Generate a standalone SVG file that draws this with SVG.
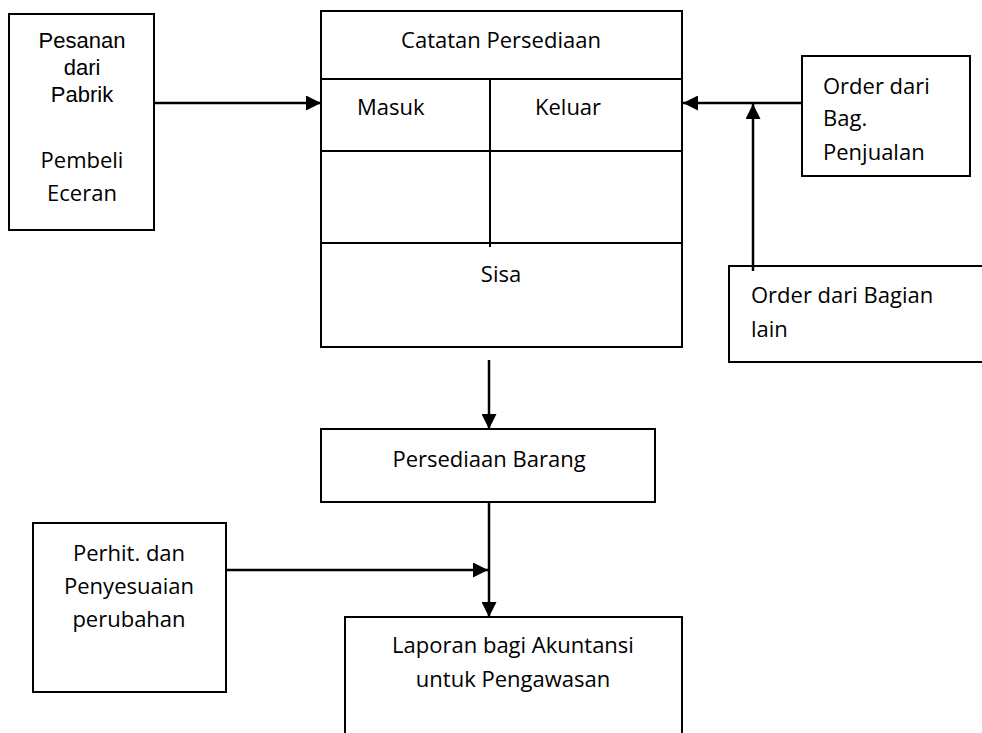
<svg xmlns="http://www.w3.org/2000/svg" width="982" height="733" viewBox="0 0 982 733">
<style>
.box{fill:#fff;stroke:#000;stroke-width:2}
.ln{stroke:#000;stroke-width:2;fill:none}
.arr{stroke:#000;stroke-width:2.5;fill:none}
.t{font-family:"Comic Sans MS","Open Sans","Noto Sans",sans-serif;font-size:22px;fill:#000}
.a{font-family:"Liberation Sans",Arial,sans-serif;font-size:22px;fill:#000}
.m{text-anchor:middle}
</style>
<defs>
<marker id="ah" viewBox="0 0 10 10" refX="10" refY="5" markerWidth="6" markerHeight="6" orient="auto" markerUnits="strokeWidth">
<path d="M0,0 L10,5 L0,10 z" fill="#000"/>
</marker>
</defs>
<g id="connectors">
<line class="arr" x1="154" y1="103" x2="321" y2="103" marker-end="url(#ah)"/>
<line class="arr" x1="802" y1="103" x2="683" y2="103" marker-end="url(#ah)"/>
<line class="arr" x1="753" y1="271" x2="753" y2="104" marker-end="url(#ah)"/>
<line class="arr" x1="489" y1="360" x2="489" y2="429" marker-end="url(#ah)"/>
<line class="arr" x1="489" y1="500" x2="489" y2="617" marker-end="url(#ah)"/>
<line class="arr" x1="226" y1="570" x2="488" y2="570" marker-end="url(#ah)"/>
</g>
<g id="pesanan">
<rect class="box" x="9" y="14" width="145" height="216"/>
<text class="a m" x="82" y="48">Pesanan</text>
<text class="a m" x="82" y="75">dari</text>
<text class="a m" x="82" y="102">Pabrik</text>
<text class="t m" x="82" y="168">Pembeli</text>
<text class="t m" x="82" y="201">Eceran</text>
</g>
<g id="catatan">
<rect class="box" x="321" y="11" width="361" height="336"/>
<line class="ln" x1="321" y1="79" x2="682" y2="79"/>
<line class="ln" x1="321" y1="151" x2="682" y2="151"/>
<line class="ln" x1="321" y1="243" x2="682" y2="243"/>
<line class="ln" x1="490" y1="79" x2="490" y2="247"/>
<text class="t m" x="501" y="48">Catatan Persediaan</text>
<text class="t" x="357" y="115">Masuk</text>
<text class="t" x="535" y="115">Keluar</text>
<text class="t m" x="501" y="282">Sisa</text>
</g>
<g id="order-penjualan">
<rect class="box" x="802" y="56" width="168" height="120"/>
<text class="t" x="823" y="94">Order dari</text>
<text class="t" x="823" y="126">Bag.</text>
<text class="t" x="823" y="160">Penjualan</text>
</g>
<g id="order-lain">
<path class="ln" d="M990,266 H729 V362 H990"/>
<text class="t" x="751" y="303">Order dari Bagian</text>
<text class="t" x="751" y="337">lain</text>
</g>
<g id="persediaan-barang">
<rect class="box" x="321" y="429" width="334" height="73"/>
<text class="t m" x="489" y="467">Persediaan Barang</text>
</g>
<g id="perhit">
<rect class="box" x="33" y="523" width="193" height="169"/>
<text class="t m" x="129" y="561">Perhit. dan</text>
<text class="t m" x="129" y="594">Penyesuaian</text>
<text class="t m" x="129" y="627">perubahan</text>
</g>
<g id="laporan">
<path class="ln" d="M345,740 V617 H682 V740"/>
<text class="t m" x="513" y="653">Laporan bagi Akuntansi</text>
<text class="t m" x="513" y="687">untuk Pengawasan</text>
</g>
</svg>
